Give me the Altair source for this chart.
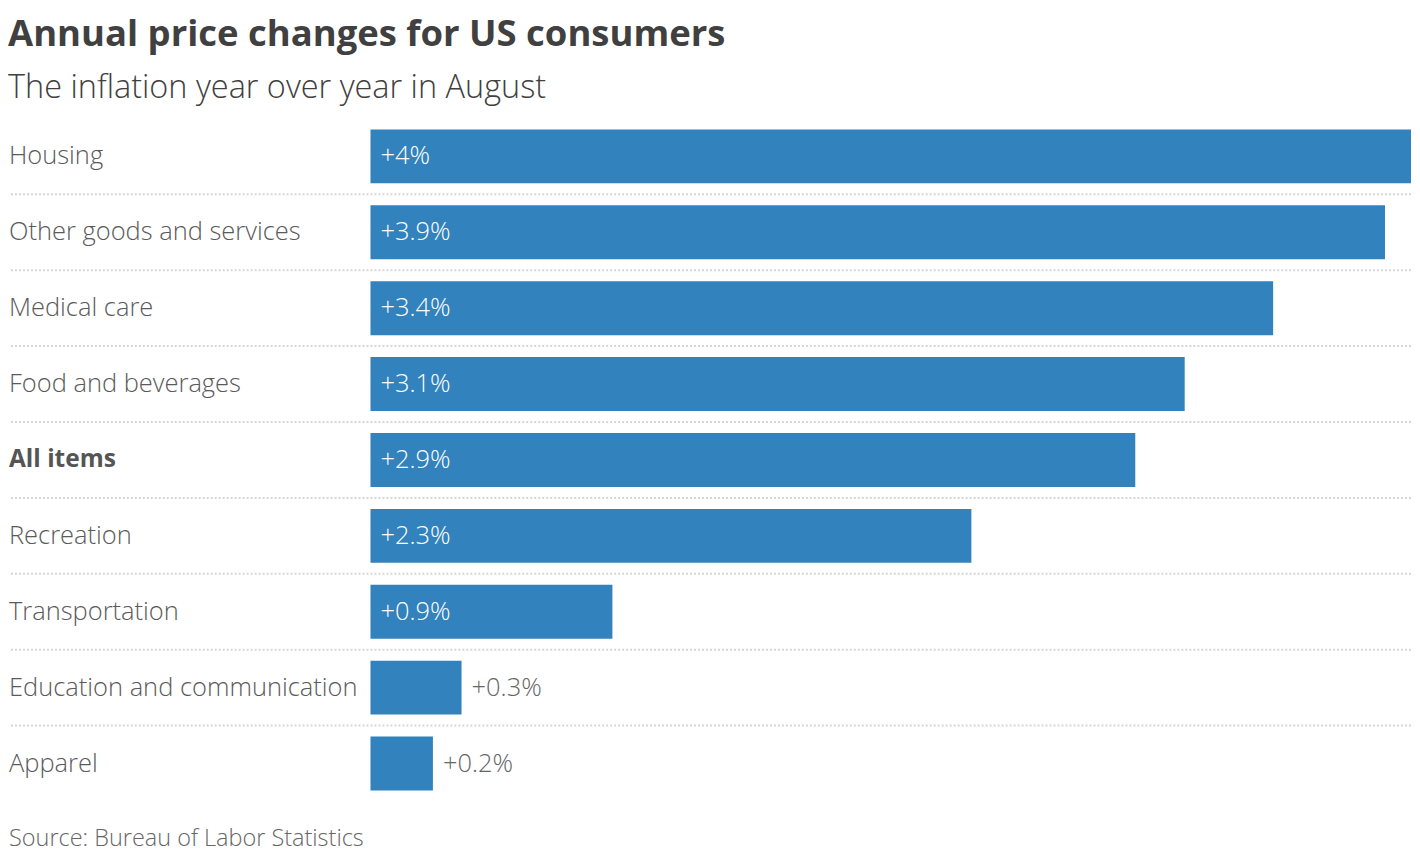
import altair as alt
import pandas as pd

categories = ["Housing", "Other goods and services", "Medical care", "Food and beverages",
              "All items", "Recreation", "Transportation", "Education and communication", "Apparel"]
values = [4.0, 3.9, 3.47, 3.13, 2.94, 2.31, 0.93, 0.35, 0.24]
labels = ["+4%", "+3.9%", "+3.4%", "+3.1%", "+2.9%", "+2.3%", "+0.9%", "+0.3%", "+0.2%"]
inside = [1, 1, 1, 1, 1, 1, 1, 0, 0]
bold = [0, 0, 0, 0, 1, 0, 0, 0, 0]
source = ["Source: Bureau of Labor Statistics"]

FONT = "Open Sans"
W = 1404
STEP = 76
H = STEP * len(categories)
BAR_START = 362  # px from left of plot where the zero line sits
XMAX = 4.0
XMIN = -BAR_START * XMAX / (W - BAR_START)

df = pd.DataFrame({"cat": categories, "value": values, "label": labels,
                   "inside": inside, "bold": bold})
df["zero"] = 0.0
df["lpos"] = [0.0 if i else v for i, v in zip(inside, values)]
seps = pd.DataFrame({"cat": categories[:-1]})
src = pd.DataFrame({"text": source})

yscale = alt.Scale(domain=categories, paddingInner=0.2895, paddingOuter=0.1447)
xscale = alt.Scale(domain=[XMIN, XMAX], nice=False, zero=False)

def Y():
    return alt.Y("cat:N", scale=yscale, axis=None)

base = alt.Chart(df)

bars = base.mark_bar(color="#3182bd").encode(
    x=alt.X("zero:Q", scale=xscale, axis=None),
    x2="value:Q",
    y=Y(),
)

rules = alt.Chart(seps).mark_rule(color="#d6d6d6", strokeWidth=2, strokeDash=[2, 2],
                                  yOffset=STEP / 2).encode(y=Y())

cat_text = base.transform_filter("datum.bold == 0").mark_text(
    align="left", baseline="middle", fontSize=25.5, font=FONT, color="#5a5a5a",
    fontWeight=300).encode(y=Y(), x=alt.value(0), text="cat:N")

cat_bold = base.transform_filter("datum.bold == 1").mark_text(
    align="left", baseline="middle", fontSize=24.5, font=FONT, color="#555555",
    fontWeight="bold").encode(y=Y(), x=alt.value(0), text="cat:N")

val_text = base.mark_text(
    align="left", baseline="middle", fontSize=25.5, font=FONT, dx=10, fontWeight=300).encode(
    y=Y(),
    x=alt.X("lpos:Q", scale=xscale, axis=None),
    text="label:N",
    color=alt.condition("datum.inside == 1", alt.value("white"), alt.value("#666666")),
)

src_text = alt.Chart(src).mark_text(
    align="left", baseline="bottom", fontSize=23.5, font=FONT, color="#666666",
    fontWeight=300).encode(x=alt.value(0), y=alt.value(H + 50), text="text:N")

chart = alt.layer(rules, bars, cat_text, cat_bold, val_text, src_text).properties(
    width=W, height=H,
    title=alt.TitleParams(
        text="Annual price changes for US consumers",
        subtitle="The inflation year over year in August",
        anchor="start", fontSize=36.5, fontWeight="bold", color="#404040", font=FONT,
        subtitleFontSize=32.5, subtitleColor="#404040", subtitleFont=FONT,
        subtitleFontWeight=300, subtitlePadding=19, offset=14,
    ),
    padding={"top": 8, "left": 0, "right": 0, "bottom": 0},
).configure_view(stroke=None)

chart.save("out.html", embed_options={"renderer": "svg", "actions": False})
